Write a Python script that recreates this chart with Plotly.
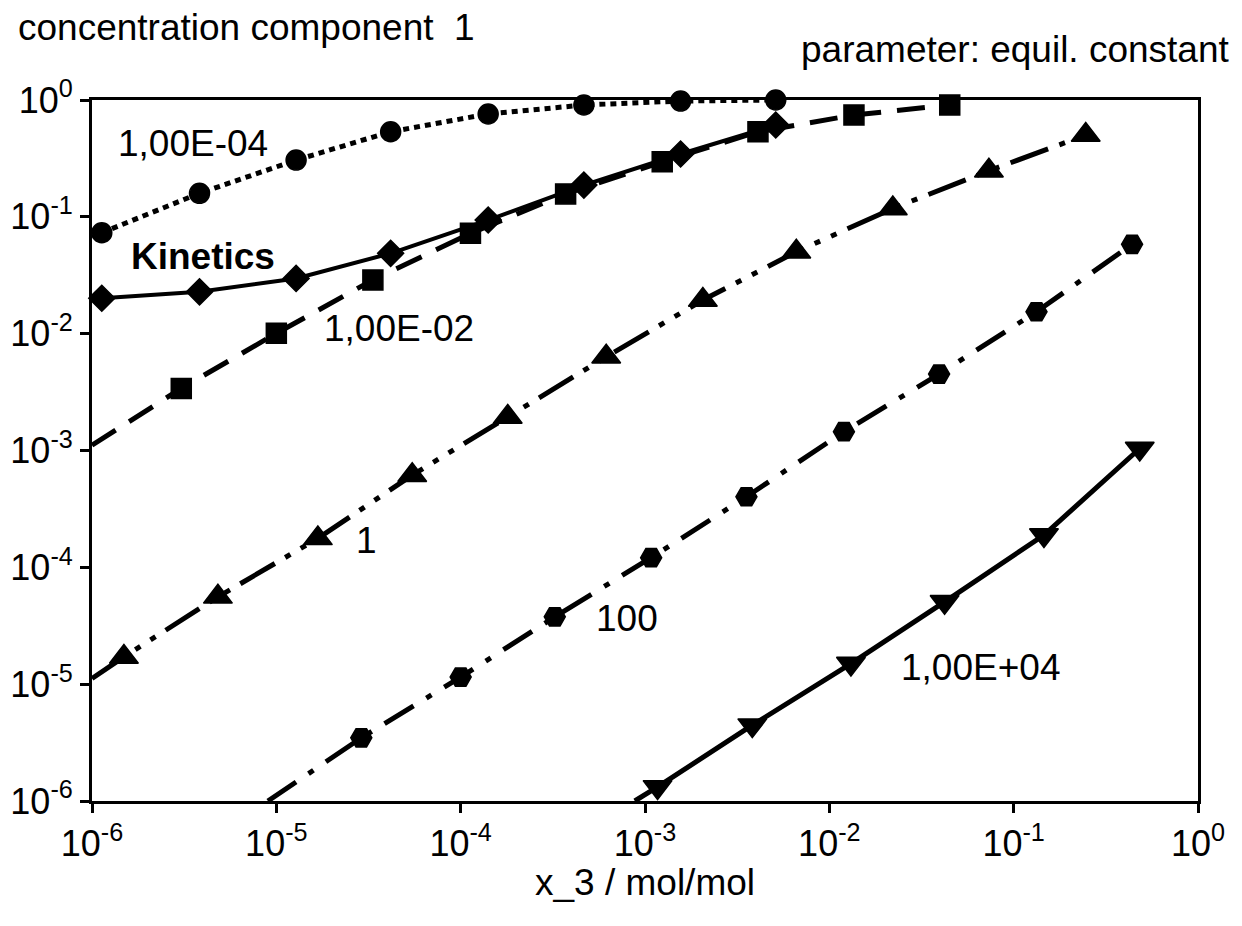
import plotly.graph_objects as go

# ---------------- data ----------------
x_k1em4 = [1.13e-6, 3.83e-6, 1.28e-5, 4.17e-5, 1.41e-4, 4.66e-4, 1.56e-3, 5.12e-3]
y_k1em4 = [0.0731, 0.159, 0.306, 0.535, 0.759, 0.906, 0.98, 1.0]

x_kin = [1.13e-6, 3.83e-6, 1.28e-5, 4.17e-5, 1.41e-4, 4.66e-4, 1.56e-3, 5.12e-3]
y_kin = [0.0201, 0.0228, 0.0297, 0.0487, 0.0939, 0.187, 0.345, 0.611]

x_k1em2 = [1.0e-6, 3.05e-6, 1.0e-5, 3.34e-5, 1.13e-4, 3.71e-4, 1.24e-3, 4.10e-3, 1.36e-2, 4.5e-2]
y_k1em2 = [1.11e-3, 3.40e-3, 1.006e-2, 0.0288, 0.0722, 0.157, 0.296, 0.535, 0.744, 0.906]

x_k1 = [1.0e-6, 1.49e-6, 4.82e-6, 1.68e-5, 5.46e-5, 1.80e-4, 6.16e-4, 2.06e-3, 6.62e-3, 2.21e-2, 7.34e-2, 0.246]
y_k1 = [1.12e-5, 1.71e-5, 5.59e-5, 1.77e-4, 6.15e-4, 1.94e-3, 6.34e-3, 1.94e-2, 5.02e-2, 0.118, 0.248, 0.501]

x_k100 = [9.0e-6, 2.89e-5, 1.0e-4, 3.24e-4, 1.08e-3, 3.55e-3, 1.2e-2, 3.94e-2, 0.133, 0.439]
y_k100 = [1.0e-6, 3.47e-6, 1.15e-5, 3.77e-5, 1.21e-4, 4.02e-4, 1.45e-3, 4.51e-3, 1.54e-2, 5.82e-2]

x_k1e4 = [8.8e-4, 1.17e-3, 3.82e-3, 1.31e-2, 4.22e-2, 0.146, 0.483]
y_k1e4 = [1.0e-6, 1.32e-6, 4.46e-6, 1.50e-5, 5.07e-5, 1.89e-4, 1.04e-3]

tick_vals = [1e-6, 1e-5, 1e-4, 1e-3, 1e-2, 1e-1, 1]
tick_exps = ["-6", "-5", "-4", "-3", "-2", "-1", "0"]

labels = ["1,00E-04", "Kinetics", "1,00E-02", "1", "100", "1,00E+04"]

# ---------------- layout geometry ----------------
# page offset of the figure (default body margin of the html page)
OFF = 8
W, H = 1234, 918
# plot area in page pixels: x 92..1198, y 100..801
L = 92 - OFF
T = 100 - OFF
R = W - (1198 - OFF)
B = H - (801 - OFF)
PW, PH = W - L - R, H - T - B


def px(xp):
    return (xp - OFF - L) / PW


def py(yp):
    return (H - B - (yp - OFF)) / PH


FONT = "Arial, Liberation Sans, sans-serif"
FS = 36
tick_text = [f"10<sup>{e}</sup>" for e in tick_exps]

fig = go.Figure()

series = [
    # x, y, dash, width, symbol, size, marker start index
    (x_k1em4, y_k1em4, "6px,5px", 5, "circle", 20, 0),
    (x_kin, y_kin, "solid", 4, "diamond", 20, 0),
    (x_k1em2, y_k1em2, "28px,16px", 5, "square", 20, 1),
    (x_k1, y_k1, "40px,12px,6px,12px,6px,12px", 5, "triangle-up", 25, 1),
    (x_k100, y_k100, "34px,15px,6px,15px", 5, "hexagon2", 21, 1),
    (x_k1e4, y_k1e4, "solid", 5, "triangle-down", 25, 1),
]

for xs, ys, dash, w, sym, sz, m0 in series:
    fig.add_trace(go.Scatter(x=xs, y=ys, mode="lines",
                             line=dict(color="black", width=w, dash=dash),
                             hoverinfo="skip", showlegend=False))
for xs, ys, dash, w, sym, sz, m0 in series:
    fig.add_trace(go.Scatter(x=xs[m0:], y=ys[m0:], mode="markers",
                             marker=dict(symbol=sym, size=sz, color="black",
                                         line=dict(color="black", width=1.5)),
                             cliponaxis=False, showlegend=False))

axis_common = dict(type="log", range=[-6, 0], showgrid=False, zeroline=False,
                   showline=True, linecolor="black", linewidth=3, mirror=True,
                   ticks="outside", ticklen=9, tickwidth=3, tickcolor="black",
                   tickvals=tick_vals, ticktext=tick_text, automargin=False,
                   tickfont=dict(family=FONT, size=FS, color="black"))
fig.update_xaxes(**axis_common)
fig.update_yaxes(**axis_common)

ann = []
def add_text(text, xp, yp, xa="center", size=37, bold=False):
    t = f"<b>{text}</b>" if bold else text
    ann.append(dict(text=t, x=px(xp), y=py(yp), xref="paper", yref="paper",
                    xanchor=xa, yanchor="middle", showarrow=False,
                    font=dict(family=FONT, size=size, color="black")))

add_text("concentration component  1", 16, 28, xa="left")
add_text("parameter: equil. constant", 1232, 50, xa="right")
add_text("x_3 / mol/mol", 645, 882)
add_text(labels[0], 193, 143)
add_text(labels[1], 203, 256, bold=True)
add_text(labels[2], 399, 328)
add_text(labels[3], 366, 540)
add_text(labels[4], 627, 618)
add_text(labels[5], 980, 667)

fig.update_layout(width=W, height=H, margin=dict(l=L, r=R, t=T, b=B, autoexpand=False),
                  paper_bgcolor="white", plot_bgcolor="white",
                  annotations=ann, font=dict(family=FONT, color="black"))

fig.write_html("out.html")
